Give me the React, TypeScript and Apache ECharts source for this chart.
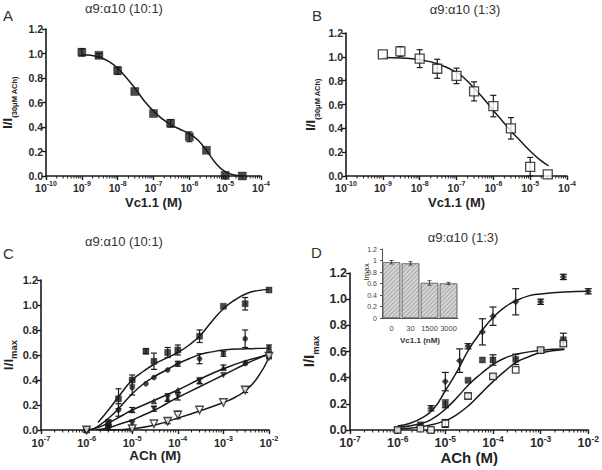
import React, { useEffect, useRef } from "react";
import * as echarts from "echarts";

// ---------- Panel A: α9:α10 (10:1), Vc1.1 inhibition ----------
const aConc = [1e-9, 3e-9, 1e-8, 3e-8, 1e-7, 3e-7, 1e-6, 3e-6, 1e-5, 3e-5];
const aResp = [1.01, 0.985, 0.86, 0.69, 0.51, 0.43, 0.32, 0.21, 0.005, 0.0];
const aErr = [0.03, 0.015, 0.03, 0.01, 0.01, 0.03, 0.04, 0.01, 0.01, 0.005];
// fitted curve (log10 of concentration, response)
const aFitLog = [-9, -8.75, -8.5, -8.25, -8, -7.75, -7.5, -7.25, -7, -6.75, -6.5, -6.25, -6, -5.75, -5.5, -5.25, -5, -4.75, -4.5];
const aFitY = [0.99, 0.985, 0.97, 0.935, 0.88, 0.8, 0.71, 0.61, 0.53, 0.465, 0.415, 0.38, 0.345, 0.29, 0.2, 0.1, 0.035, 0.008, 0.0];

// ---------- Panel B: α9:α10 (1:3), Vc1.1 inhibition ----------
const bConc = [1e-9, 3e-9, 1e-8, 3e-8, 1e-7, 3e-7, 1e-6, 3e-6, 1e-5, 3e-5];
const bResp = [1.02, 1.045, 0.985, 0.9, 0.84, 0.71, 0.587, 0.4, 0.076, 0.014];
const bErr = [0.01, 0.04, 0.075, 0.08, 0.065, 0.08, 0.09, 0.09, 0.08, 0.01];
const bFitLog = [-9, -8.5, -8, -7.5, -7, -6.75, -6.5, -6.25, -6, -5.75, -5.5, -5.25, -5, -4.75, -4.5];
const bFitY = [0.995, 0.99, 0.975, 0.94, 0.87, 0.81, 0.73, 0.645, 0.55, 0.46, 0.37, 0.29, 0.21, 0.14, 0.085];

// ---------- Panel C: α9:α10 (10:1), ACh concentration-response ----------
const cConc1 = [1e-6, 3e-6, 5e-6, 1e-5, 2e-5, 3e-5, 6e-5, 1e-4, 3e-4, 1e-3, 3e-3, 1e-2];
const cResp1 = [0.0, 0.05, 0.25, 0.4, 0.63, 0.55, 0.62, 0.64, 0.75, 0.99, 1.01, 1.12];
const cErr1 = [0.01, 0.03, 0.08, 0.04, 0.02, 0.065, 0.04, 0.04, 0.05, 0.01, 0.05, 0.01];
const cConc2 = [1e-6, 3e-6, 5e-6, 1e-5, 2e-5, 3e-5, 6e-5, 1e-4, 3e-4, 1e-3, 3e-3, 1e-2];
const cResp2 = [0.0, 0.02, 0.16, 0.34, 0.37, 0.42, 0.48, 0.53, 0.57, 0.61, 0.73, 0.66];
const cErr2 = [0.0, 0.02, 0.05, 0.06, 0.01, 0.01, 0.01, 0.02, 0.04, 0.02, 0.07, 0.02];
const cConc3 = [1e-6, 3e-6, 1e-5, 3e-5, 6e-5, 1e-4, 3e-4, 1e-3, 3e-3, 1e-2];
const cResp3 = [0.0, 0.06, 0.16, 0.23, 0.25, 0.32, 0.39, 0.5, 0.54, 0.6];
const cErr3 = [0.0, 0.02, 0.02, 0.01, 0.01, 0.01, 0.02, 0.02, 0.01, 0.02];
const cConc4 = [1e-6, 3e-6, 1e-5, 3e-5, 6e-5, 1e-4, 3e-4, 1e-3, 3e-3, 1e-2];
const cResp4 = [0.0, 0.01, 0.05, 0.17, 0.26, 0.27, 0.4, 0.44, 0.53, 0.61];
const cErr4 = [0.0, 0.01, 0.03, 0.02, 0.03, 0.03, 0.01, 0.01, 0.01, 0.01];
const cConc5 = [1e-6, 1e-5, 3e-5, 6e-5, 1e-4, 3e-4, 1e-3, 3e-3, 1e-2];
const cResp5 = [0.0, 0.01, 0.05, 0.07, 0.12, 0.16, 0.22, 0.32, 0.59];
const cErr5 = [0.0, 0.01, 0.01, 0.02, 0.03, 0.01, 0.01, 0.02, 0.02];
const cFit1Log = [-5.75, -5.5, -5.25, -5, -4.75, -4.5, -4.25, -4, -3.75, -3.5, -3.25, -3, -2.75, -2.5, -2.25, -2];
const cFit1Y = [0.06, 0.17, 0.29, 0.4, 0.47, 0.53, 0.575, 0.62, 0.68, 0.76, 0.87, 0.97, 1.04, 1.09, 1.115, 1.125];
const cFit2Log = [-5.9, -5.75, -5.5, -5.25, -5, -4.75, -4.5, -4.25, -4, -3.75, -3.5, -3.25, -3, -2.5, -2];
const cFit2Y = [0.0, 0.03, 0.1, 0.19, 0.29, 0.37, 0.43, 0.48, 0.53, 0.57, 0.605, 0.625, 0.64, 0.65, 0.655];
const cFit3Log = [-6, -5.75, -5.5, -5.25, -5, -4.75, -4.5, -4.25, -4, -3.5, -3, -2.5, -2];
const cFit3Y = [0.0, 0.02, 0.06, 0.11, 0.16, 0.2, 0.24, 0.28, 0.32, 0.41, 0.49, 0.555, 0.6];
const cFit4Log = [-5.8, -5.5, -5.25, -5, -4.75, -4.5, -4.25, -4, -3.5, -3, -2.5, -2];
const cFit4Y = [0.0, 0.02, 0.05, 0.08, 0.12, 0.16, 0.21, 0.26, 0.35, 0.44, 0.53, 0.61];
const cFit5Log = [-5.75, -5.5, -5, -4.5, -4, -3.5, -3, -2.75, -2.5, -2.25, -2];
const cFit5Y = [0.0, 0.0, 0.01, 0.04, 0.095, 0.155, 0.22, 0.26, 0.32, 0.42, 0.58];

// ---------- Panel D: α9:α10 (1:3), ACh concentration-response ----------
const dConc1 = [1e-6, 3e-6, 5e-6, 1e-5, 2e-5, 3e-5, 6e-5, 1e-4, 3e-4, 1e-3, 3e-3, 1e-2];
const dResp1 = [0.0, 0.03, 0.166, 0.37, 0.53, 0.64, 0.75, 0.87, 0.98, 0.98, 1.17, 1.06];
const dErr1 = [0.0, 0.01, 0.02, 0.07, 0.09, 0.02, 0.1, 0.07, 0.1, 0.02, 0.02, 0.02];
const dConc2 = [1e-6, 3e-6, 1e-5, 3e-5, 6e-5, 1e-4, 3e-4, 1e-3, 3e-3];
const dResp2 = [0.0, 0.04, 0.2, 0.38, 0.535, 0.535, 0.54, 0.61, 0.69];
const dErr2 = [0.0, 0.01, 0.03, 0.01, 0.01, 0.04, 0.04, 0.02, 0.05];
const dConc3 = [1e-6, 3e-6, 5e-6, 1e-5, 3e-5, 1e-4, 3e-4, 1e-3, 3e-3];
const dResp3 = [0.0, 0.01, 0.0, 0.05, 0.26, 0.41, 0.46, 0.61, 0.66];
const dErr3 = [0.0, 0.01, 0.0, 0.03, 0.02, 0.02, 0.01, 0.02, 0.02];
const dFit1Log = [-6, -5.75, -5.5, -5.25, -5, -4.75, -4.5, -4.25, -4, -3.75, -3.5, -3.25, -3, -2.5, -2];
const dFit1Y = [0.03, 0.05, 0.09, 0.16, 0.3, 0.45, 0.62, 0.75, 0.86, 0.94, 0.99, 1.025, 1.04, 1.055, 1.06];
const dFit2Log = [-6, -5.5, -5.25, -5, -4.75, -4.5, -4.25, -4, -3.75, -3.5, -3, -2.5];
const dFit2Y = [0.02, 0.05, 0.09, 0.16, 0.25, 0.35, 0.43, 0.5, 0.55, 0.58, 0.61, 0.62];
const dFit3Log = [-6, -5.5, -5, -4.75, -4.5, -4.25, -4, -3.75, -3.5, -3.25, -3, -2.5];
const dFit3Y = [0.01, 0.025, 0.07, 0.12, 0.19, 0.28, 0.37, 0.45, 0.52, 0.56, 0.59, 0.615];

// ---------- Inset (panel D): Imax vs Vc1.1 ----------
const insetCats = ["0", "30", "1500", "3000"];
const insetVals = [0.97, 0.95, 0.61, 0.6];
const insetErrs = [0.03, 0.03, 0.04, 0.02];

// Decade tick labels
const decadesAB = [-10, -9, -8, -7, -6, -5, -4];
const decadesCD = [-7, -6, -5, -4, -3, -2];

const FONT = "Liberation Sans, Arial, sans-serif";
const INK = "#1a1a1a";

const pts = (xs: number[], ys: number[]) => xs.map((x, i) => [x, ys[i]]);
const logPts = (ls: number[], ys: number[]) => ls.map((l, i) => [Math.pow(10, l), ys[i]]);
const errPts = (xs: number[], ys: number[], es: number[]) => xs.map((x, i) => [x, ys[i], es[i]]);

function minorTickValues(decades: number[]) {
  const out: number[][] = [];
  for (let k = 0; k < decades.length - 1; k++) {
    for (let m = 2; m <= 9; m++) out.push([m * Math.pow(10, decades[k]), 0]);
  }
  return out;
}

export default function App() {
  const ref = useRef<HTMLDivElement>(null);

  useEffect(() => {
    if (!ref.current) return;
    const chart = echarts.init(ref.current, undefined, { renderer: "svg" });

    const grids = [
      { left: 44, top: 29, width: 217, height: 147 },
      { left: 346, top: 33, width: 221, height: 143 },
      { left: 41, top: 280, width: 228, height: 150 },
      { left: 350, top: 273, width: 240, height: 157 },
      { left: 382, top: 249, width: 76, height: 69 },
    ];

    const lblSize = [10.5, 10.5, 11, 12.5];
    const supSize = [7, 7, 7.5, 8.5];
    const nameSize = [13, 13, 13.5, 15];

    const makeLogX = (i: number, decades: number[], name: string, nameGap: number) => ({
      type: "log",
      logBase: 10,
      gridIndex: i,
      min: Math.pow(10, decades[0]),
      max: Math.pow(10, decades[decades.length - 1]),
      splitNumber: decades.length - 1,
      splitLine: { show: false },
      axisLine: { show: true, onZero: false, lineStyle: { color: INK, width: 1.6 } },
      axisTick: { show: true, length: 4, lineStyle: { color: INK, width: 1.4 } },
      minorTick: { show: false },
      axisLabel: {
        margin: 4,
        formatter: (v: number) => `{b|10}{s|${Math.round(Math.log10(v))}}`,
        rich: {
          b: { fontSize: lblSize[i], fontWeight: "bold", fontFamily: FONT, color: "#2a2a2a", lineHeight: lblSize[i] + 3, verticalAlign: "bottom" },
          s: { fontSize: supSize[i], fontWeight: "bold", fontFamily: FONT, color: "#2a2a2a", verticalAlign: "top" },
        },
      },
      name,
      nameLocation: "middle",
      nameGap,
      nameTextStyle: { fontSize: nameSize[i], fontWeight: "bold", fontFamily: FONT, color: "#222" },
    });

    const makeY = (i: number, nameRich: string, sub: string, nameGap: number) => ({
      type: "value",
      gridIndex: i,
      min: 0,
      max: 1.2,
      interval: 0.2,
      splitLine: { show: false },
      axisLine: { show: true, lineStyle: { color: INK, width: 1.6 } },
      axisTick: { show: true, length: 4, lineStyle: { color: INK, width: 1.4 } },
      axisLabel: {
        margin: 3,
        fontSize: lblSize[i],
        fontWeight: "bold",
        fontFamily: FONT,
        color: "#2a2a2a",
        formatter: (v: number) => v.toFixed(1),
      },
      name: `{m|${nameRich}}{u|${sub}}`,
      nameLocation: "middle",
      nameGap,
      nameRotate: 90,
      nameTextStyle: {
        rich: {
          m: { fontSize: nameSize[i], fontWeight: "bold", fontFamily: FONT, color: "#222", lineHeight: nameSize[i] + 4, verticalAlign: "top" },
          u: { fontSize: i < 2 ? 7.5 : 9.5, fontWeight: "bold", fontFamily: FONT, color: "#222", verticalAlign: "bottom" },
        },
      },
    });

    const xAxis: any[] = [
      makeLogX(0, decadesAB, "Vc1.1 (M)", 20),
      makeLogX(1, decadesAB, "Vc1.1 (M)", 20),
      makeLogX(2, decadesCD, "ACh (M)", 14),
      makeLogX(3, decadesCD, "ACh (M)", 12),
      {
        type: "category",
        gridIndex: 4,
        data: insetCats,
        axisLine: { lineStyle: { color: "#555", width: 1 } },
        axisTick: { show: false },
        axisLabel: { fontSize: 7.5, fontFamily: FONT, color: "#444", margin: 6, interval: 0 },
        name: "Vc1.1 (nM)",
        nameLocation: "middle",
        nameGap: 18,
        nameTextStyle: { fontSize: 8, fontWeight: "bold", fontFamily: FONT, color: "#333" },
      },
    ];

    const yAxis: any[] = [
      makeY(0, "I/I", "(30μM ACh)", 28),
      makeY(1, "I/I", "(30μM ACh)", 25),
      makeY(2, "I/I", "max", 21),
      makeY(3, "I/I", "max", 30),
      {
        type: "value",
        gridIndex: 4,
        min: 0,
        max: 1.2,
        interval: 0.2,
        splitLine: { show: false },
        axisLine: { show: true, lineStyle: { color: "#555", width: 1 } },
        axisTick: { show: true, length: 2, lineStyle: { color: "#555" } },
        axisLabel: {
          fontSize: 7,
          fontFamily: FONT,
          color: "#444",
          margin: 5,
          formatter: (v: number) => String(+v.toFixed(1)),
        },
      },
    ];

    const fit = (i: number, ls: number[], ys: number[]) => ({
      type: "line",
      xAxisIndex: i,
      yAxisIndex: i,
      data: logPts(ls, ys),
      showSymbol: false,
      smooth: 0.5,
      lineStyle: { color: INK, width: 1.5 },
      z: 2,
      silent: true,
    });

    const scatter = (i: number, xs: number[], ys: number[], symbol: string, size: number, open = false, rotate = 0) => ({
      type: "scatter",
      xAxisIndex: i,
      yAxisIndex: i,
      data: pts(xs, ys),
      symbol,
      symbolSize: size,
      symbolRotate: rotate,
      itemStyle: open
        ? { color: "#fff", borderColor: INK, borderWidth: 1.3 }
        : { color: INK, borderColor: INK, borderWidth: 0.5 },
      z: 4,
      silent: true,
    });

    const errBars = (i: number, xs: number[], ys: number[], es: number[], cap: number) => ({
      type: "custom",
      xAxisIndex: i,
      yAxisIndex: i,
      data: errPts(xs, ys, es),
      encode: { x: 0, y: 1 },
      z: 3,
      silent: true,
      renderItem: (_p: any, api: any) => {
        const x = api.value(0);
        const y = api.value(1);
        const e = api.value(2);
        if (!e || e < 0.012) return { type: "group", children: [] };
        const top = api.coord([x, y + e]);
        const bot = api.coord([x, Math.max(y - e, 0)]);
        const style = { stroke: INK, lineWidth: 1.2 };
        return {
          type: "group",
          children: [
            { type: "line", shape: { x1: top[0], y1: top[1], x2: bot[0], y2: bot[1] }, style },
            { type: "line", shape: { x1: top[0] - cap, y1: top[1], x2: top[0] + cap, y2: top[1] }, style },
            { type: "line", shape: { x1: bot[0] - cap, y1: bot[1], x2: bot[0] + cap, y2: bot[1] }, style },
          ],
        };
      },
    });

    const minorTicks = (i: number, decades: number[]) => ({
      type: "custom",
      xAxisIndex: i,
      yAxisIndex: i,
      data: minorTickValues(decades),
      encode: { x: 0, y: 1 },
      clip: false,
      silent: true,
      z: 1,
      renderItem: (_p: any, api: any) => {
        const p = api.coord([api.value(0), 0]);
        return {
          type: "line",
          shape: { x1: p[0], y1: p[1], x2: p[0], y2: p[1] + 2.5 },
          style: { stroke: INK, lineWidth: 1 },
        };
      },
    });

    const series: any[] = [
      minorTicks(0, decadesAB),
      minorTicks(1, decadesAB),
      minorTicks(2, decadesCD),
      minorTicks(3, decadesCD),
      // Panel A
      fit(0, aFitLog, aFitY),
      errBars(0, aConc, aResp, aErr, 3),
      scatter(0, aConc, aResp, "rect", 8),
      // Panel B
      fit(1, bFitLog, bFitY),
      errBars(1, bConc, bResp, bErr, 3),
      scatter(1, bConc, bResp, "rect", 9, true),
      // Panel C
      fit(2, cFit1Log, cFit1Y),
      fit(2, cFit2Log, cFit2Y),
      fit(2, cFit3Log, cFit3Y),
      fit(2, cFit4Log, cFit4Y),
      fit(2, cFit5Log, cFit5Y),
      errBars(2, cConc1, cResp1, cErr1, 3),
      errBars(2, cConc2, cResp2, cErr2, 3),
      errBars(2, cConc3, cResp3, cErr3, 3),
      errBars(2, cConc4, cResp4, cErr4, 3),
      errBars(2, cConc5, cResp5, cErr5, 3),
      scatter(2, cConc1, cResp1, "rect", 6),
      scatter(2, cConc2, cResp2, "circle", 5),
      scatter(2, cConc3, cResp3, "triangle", 5.5),
      scatter(2, cConc4, cResp4, "triangle", 5.5, false, 180),
      scatter(2, cConc5, cResp5, "triangle", 7.5, true, 180),
      // Panel D
      fit(3, dFit1Log, dFit1Y),
      fit(3, dFit2Log, dFit2Y),
      fit(3, dFit3Log, dFit3Y),
      errBars(3, dConc1, dResp1, dErr1, 3.5),
      errBars(3, dConc2, dResp2, dErr2, 3.5),
      errBars(3, dConc3, dResp3, dErr3, 3.5),
      scatter(3, dConc1, dResp1, "diamond", 6.5),
      scatter(3, dConc2, dResp2, "rect", 6),
      scatter(3, dConc3, dResp3, "rect", 6.5, true),
      // Inset
      {
        type: "bar",
        xAxisIndex: 4,
        yAxisIndex: 4,
        data: insetVals,
        barCategoryGap: "8%",
        itemStyle: {
          color: "#d6d6d6",
          borderColor: "#666",
          borderWidth: 0.6,
          decal: {
            symbol: "rect",
            symbolSize: 1,
            dashArrayX: [1, 0],
            dashArrayY: [1, 2],
            rotation: -Math.PI / 4,
            color: "rgba(80,80,80,0.35)",
          },
        },
        silent: true,
      },
      {
        type: "custom",
        xAxisIndex: 4,
        yAxisIndex: 4,
        data: insetVals.map((v, k) => [k, v, insetErrs[k]]),
        encode: { x: 0, y: 1 },
        z: 3,
        silent: true,
        renderItem: (_p: any, api: any) => {
          const x = api.value(0);
          const y = api.value(1);
          const e = api.value(2);
          const top = api.coord([x, y + e]);
          const bot = api.coord([x, y - e]);
          const style = { stroke: "#333", lineWidth: 0.8 };
          return {
            type: "group",
            children: [
              { type: "line", shape: { x1: top[0], y1: top[1], x2: bot[0], y2: bot[1] }, style },
              { type: "line", shape: { x1: top[0] - 2, y1: top[1], x2: top[0] + 2, y2: top[1] }, style },
              { type: "line", shape: { x1: bot[0] - 2, y1: bot[1], x2: bot[0] + 2, y2: bot[1] }, style },
            ],
          };
        },
      },
    ];

    const titleStyle = (text: string, x: number, y: number) => ({
      type: "text",
      x,
      y,
      style: { text, fontSize: 13, fontFamily: FONT, fill: "#333", textAlign: "center", textVerticalAlign: "middle" },
      silent: true,
    });
    const letter = (text: string, x: number, y: number) => ({
      type: "text",
      x,
      y,
      style: { text, fontSize: 15, fontFamily: FONT, fill: "#333", textAlign: "left", textVerticalAlign: "middle" },
      silent: true,
    });

    const graphic: any[] = [
      titleStyle("α9:α10 (10:1)", 124, 8),
      titleStyle("α9:α10 (1:3)", 465, 9),
      titleStyle("α9:α10 (10:1)", 124, 241),
      titleStyle("α9:α10 (1:3)", 463, 237),
      letter("A", 3, 15),
      letter("B", 312, 15),
      letter("C", 3, 253),
      letter("D", 311, 252),
      {
        type: "text",
        x: 366,
        y: 272,
        rotation: Math.PI / 2,
        style: { text: "Imax", fontSize: 8, fontFamily: FONT, fill: "#333", textAlign: "center", textVerticalAlign: "middle" },
        silent: true,
      },
    ];

    chart.setOption({
      animation: false,
      backgroundColor: "#fff",
      grid: grids,
      xAxis,
      yAxis,
      series,
      graphic,
    });

    return () => chart.dispose();
  }, []);

  return <div ref={ref} style={{ position: "fixed", left: 0, top: 0, width: 602, height: 470 }} />;
}
